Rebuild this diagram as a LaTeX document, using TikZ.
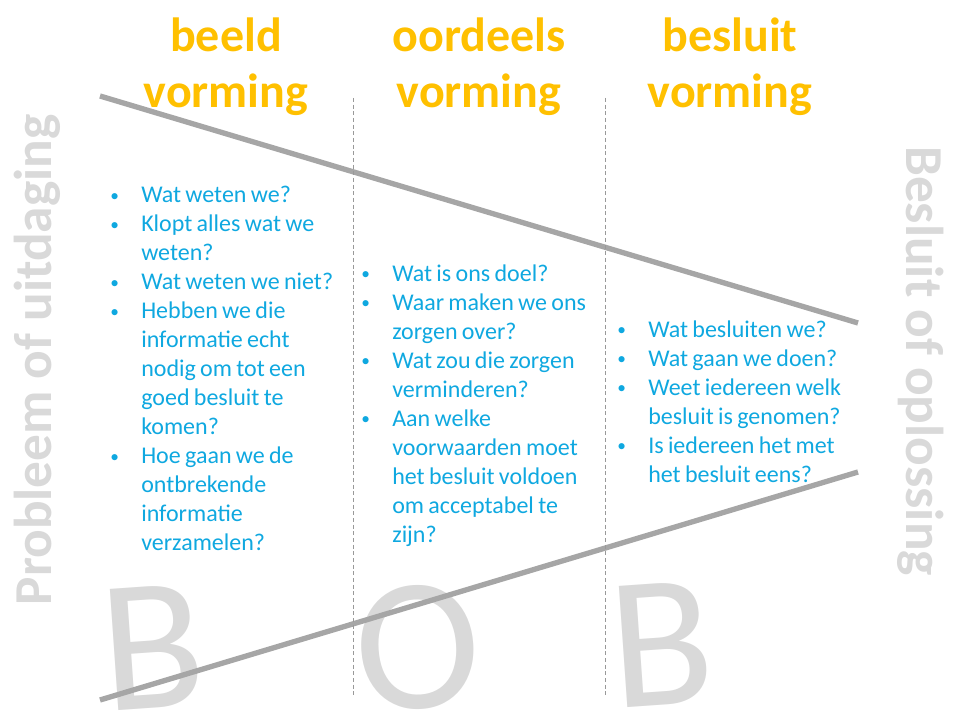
\documentclass[tikz,border=0pt]{standalone}
\usepackage{fontspec}
\setmainfont{Carlito}
\usetikzlibrary{calc}

\definecolor{kopgeel}{HTML}{FFC000}
\definecolor{vraagblauw}{HTML}{0FA8E0}
\definecolor{lichtgrijs}{HTML}{D9D9D9}
\definecolor{lijngrijs}{HTML}{A6A6A6}

\newcommand{\vraag}[1]{\par\spaceskip=0.18em\relax\hangindent=24.75pt\hangafter=1\noindent\strut\makebox[24.75pt][l]{\kern1.5pt\raisebox{1pt}{\fontsize{13}{13}\selectfont\textbullet}}#1\par}

\begin{document}
\begin{tikzpicture}[x=0.75pt,y=-0.75pt,
		kop/.style={text=kopgeel, font=\fontsize{36}{42}\selectfont\bfseries, align=center, inner sep=0pt, anchor=north},
		vragen/.style={text=vraagblauw, font=\fontsize{18}{21.75}\selectfont, text width=230pt, inner sep=0pt, anchor=north west},
		zijtekst/.style={text=lichtgrijs, font=\fontsize{40}{48}\selectfont\bfseries, inner sep=0pt, anchor=base},
		letter/.style={text=lichtgrijs, font=\fontsize{142}{150}\selectfont, inner sep=0pt, rotate=4},
		trechter/.style={draw=lijngrijs, line width=4pt},
		scheiding/.style={draw=gray!80, line width=0.6pt, dash pattern=on 3pt off 2pt}]
		\useasboundingbox (0,0) rectangle (960,720);

		\coordinate (LB) at (100,96); % links boven
		\coordinate (RB) at (858,323); % rechts boven
		\coordinate (LO) at (100,700); % links onder
		\coordinate (RO) at (858,472); % rechts onder
		\coordinate (S1) at (353,98);
		\coordinate (S1') at (353,697);
		\coordinate (S2) at (605,98);
		\coordinate (S2') at (605,697);

		\node[letter] (B1) at (153,647) {B};
		\node[letter] (O) at (418,647) {O};
		\node[letter] (B2) at (662,644) {B};

		\draw[trechter] (LB) -- (RB);
		\draw[trechter] (LO) -- (RO);
		\draw[scheiding] (S1) -- (S1');
		\draw[scheiding] (S2) -- (S2');

		\node[zijtekst, rotate=90] (probleem) at (51,360) {Probleem of uitdaging};
		\node[zijtekst, rotate=-90] (oplossing) at (906,361) {Besluit of oplossing};

		\node[kop] (beeld) at (226,18) {beeld\\vorming};
		\node[kop] (oordeels) at (479,18) {oordeels\\vorming};
		\node[kop] (besluit) at (730,18) {besluit\\vorming};

		\node[vragen] (beeldvragen) at (108,173.5) {%
			\vraag{Wat weten we?}
			\vraag{Klopt alles wat we\newline weten?}
			\vraag{Wat weten we niet?}
			\vraag{Hebben we die\newline informatie echt\newline nodig om tot een\newline goed besluit te\newline komen?}
			\vraag{Hoe gaan we de\newline ontbrekende\newline informatie\newline verzamelen?}};
		\node[vragen] (oordeelsvragen) at (359,252) {%
			\vraag{Wat is ons doel?}
			\vraag{Waar maken we ons\newline zorgen over?}
			\vraag{Wat zou die zorgen\newline verminderen?}
			\vraag{Aan welke\newline voorwaarden moet\newline het besluit voldoen\newline om acceptabel te\newline zijn?}};
		\node[vragen] (besluitvragen) at (615,308) {%
			\vraag{Wat besluiten we?}
			\vraag{Wat gaan we doen?}
			\vraag{Weet iedereen welk\newline besluit is genomen?}
			\vraag{Is iedereen het met\newline het besluit eens?}};
	\end{tikzpicture}
\end{document}
